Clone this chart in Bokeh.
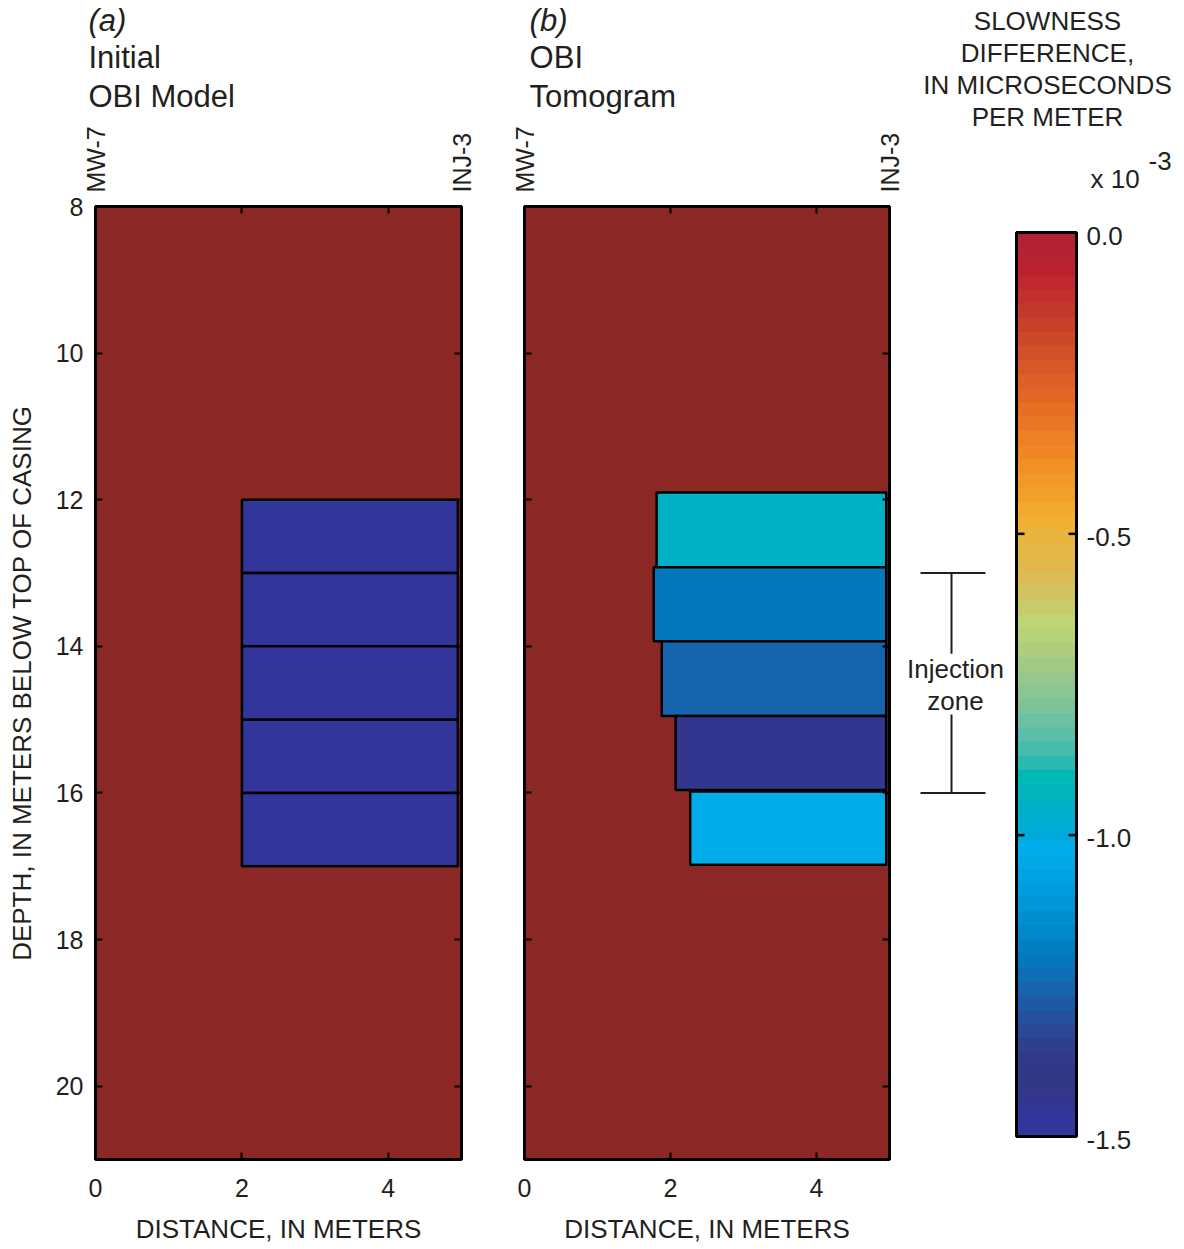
import numpy as np
from bokeh.plotting import figure
from bokeh.models import Range1d, FixedTicker, LinearAxis, ColumnDataSource
from bokeh.transform import linear_cmap
from bokeh.layouts import row, column
from bokeh.embed import file_html
from bokeh.resources import INLINE
from bokeh.core.properties import value

FONT = "Liberation Sans"
INK = "#231F20"

# ---------------- data ----------------
X_MIN, X_MAX = 0, 5
DEPTH_TOP, DEPTH_BOTTOM = 8, 21
X_TICKS = [0, 2, 4]
DEPTH_TICKS = [8, 10, 12, 14, 16, 18, 20]
WELL_X = [0, 5]
WELL_NAMES = ["MW-7", "INJ-3"]

MODEL_LEFT = [2.0, 2.0, 2.0, 2.0, 2.0]
MODEL_RIGHT = [4.95, 4.95, 4.95, 4.95, 4.95]
MODEL_TOP = [12, 13, 14, 15, 16]
MODEL_BOTTOM = [13, 14, 15, 16, 17]
MODEL_VALUE = [-1.5, -1.5, -1.5, -1.5, -1.5]

TOMO_LEFT = [1.81, 1.77, 1.88, 2.07, 2.27]
TOMO_RIGHT = [4.955, 4.955, 4.955, 4.955, 4.955]
TOMO_TOP = [11.9, 12.92, 13.93, 14.95, 15.98]
TOMO_BOTTOM = [12.92, 13.93, 14.95, 15.96, 16.98]
TOMO_VALUE = [-0.95, -1.2, -1.26, -1.44, -1.02]

INJ_TOP, INJ_BOTTOM = 13.0, 16.0

CB_LOW, CB_HIGH = -1.5, 0.0
CB_TICKS = [0.0, -0.5, -1.0, -1.5]
CB_TICK_LABELS = ["0.0", "-0.5", "-1.0", "-1.5"]
CB_TITLE = ["SLOWNESS", "DIFFERENCE,", "IN MICROSECONDS", "PER METER"]
# colour map, from low (-1.5) to high (0.0)
PALETTE = [
    "#32359A", "#32359A", "#32368F", "#33378A", "#333886", "#32398A", "#303E8E",
    "#2C4795", "#25509D", "#1D5AA6", "#1663AE", "#0D6DB5", "#0577BD", "#0080C3",
    "#0088CA", "#008FD1", "#0096D8", "#009DDE", "#00A3E3", "#00A8E6", "#00ADE9",
    "#00ABDA", "#00AECF", "#00B1C6", "#00B5BC", "#00B8B4", "#2BB9B0", "#45BCAC",
    "#5ABEA8", "#6BC1A2", "#7CC39A", "#8AC593", "#97C78B", "#A3CA84", "#AECE7D",
    "#B8D277", "#BFD574", "#C7CB69", "#CFC461", "#D8BD58", "#E1B84C", "#E6B646",
    "#EAB441", "#F0B034", "#F3A92D", "#F2A029", "#F19827", "#F09025", "#EF8724",
    "#ED7F24", "#EA7724", "#E66F24", "#E26725", "#DD6026", "#D75827", "#D15028",
    "#CC4829", "#C7402A", "#C4382B", "#C1302C", "#BE282E", "#BA222F", "#B52231",
    "#B12233",
]

# ---------------- layout geometry (pixels) ----------------
W = 1184
HEADER_H = 194
ROW_H = 1053
TOP_B = 12
FRAME_H = 953
BOT_B = ROW_H - TOP_B - FRAME_H
A_W, A_L, A_FW = 486, 95, 366
B_W, B_L, B_FW = 419, 38, 365
C_W = W - A_W - B_W
A_X0 = A_L
B_X0 = A_W + B_L
C_X0 = A_W + B_W
FRAME_TOP_PX = HEADER_H + TOP_B


def style_axis(ax, ticks, labels=True, size="25px", standoff=10):
    ax.ticker = FixedTicker(ticks=ticks)
    ax.major_tick_in = 7
    ax.major_tick_out = 0
    ax.minor_tick_in = 0
    ax.minor_tick_out = 0
    ax.major_tick_line_width = 2
    ax.major_tick_line_color = "black"
    ax.axis_line_color = "black"
    ax.axis_line_width = 3
    ax.major_label_text_font = FONT
    ax.major_label_text_color = INK
    ax.axis_label_text_font = FONT
    ax.axis_label_text_color = INK
    ax.axis_label_text_font_style = "normal"
    if labels:
        ax.major_label_text_font_size = size
        ax.major_label_standoff = standoff
    else:
        ax.major_label_text_font_size = "0px"
        ax.major_label_standoff = 0
        ax.major_label_text_alpha = 0


def panel(width, left_b, frame_w, depth_labels):
    p = figure(width=width, height=ROW_H, x_range=Range1d(X_MIN, X_MAX),
               y_range=Range1d(DEPTH_BOTTOM, DEPTH_TOP),
               x_axis_type=None, y_axis_type=None,
               toolbar_location=None, output_backend="svg",
               min_border_left=left_b, min_border_right=width - left_b - frame_w,
               min_border_top=TOP_B, min_border_bottom=BOT_B)
    p.background_fill_color = "#8B2825"
    p.border_fill_color = "white"
    p.outline_line_color = "black"
    p.outline_line_width = 3
    p.grid.visible = False

    bottom = LinearAxis(axis_label="DISTANCE, IN METERS")
    style_axis(bottom, X_TICKS, size="25px", standoff=19)
    bottom.axis_label_text_font_size = "26px"
    bottom.axis_label_standoff = 14
    p.add_layout(bottom, "below")

    top = LinearAxis()
    style_axis(top, X_TICKS, labels=False)
    p.add_layout(top, "above")

    left = LinearAxis()
    if depth_labels:
        left.axis_label = "DEPTH, IN METERS BELOW TOP OF CASING"
        style_axis(left, DEPTH_TICKS, size="25px", standoff=12)
        left.axis_label_text_font_size = "26px"
        left.axis_label_standoff = 16
    else:
        style_axis(left, DEPTH_TICKS, labels=False)
    p.add_layout(left, "left")

    right = LinearAxis()
    style_axis(right, DEPTH_TICKS, labels=False)
    p.add_layout(right, "right")
    return p


cmap = linear_cmap("value", PALETTE, CB_LOW, CB_HIGH)

# ---------------- panel (a) ----------------
pa = panel(A_W, A_L, A_FW, True)
pa.quad(left="left", right="right", top="top", bottom="bottom",
        source=ColumnDataSource(dict(left=MODEL_LEFT, right=MODEL_RIGHT, top=MODEL_TOP,
                                     bottom=MODEL_BOTTOM, value=MODEL_VALUE)),
        fill_color=cmap, line_color="black", line_width=2.5)

# ---------------- panel (b) ----------------
pb = panel(B_W, B_L, B_FW, False)
pb.quad(left="left", right="right", top="top", bottom="bottom",
        source=ColumnDataSource(dict(left=TOMO_LEFT, right=TOMO_RIGHT, top=TOMO_TOP,
                                     bottom=TOMO_BOTTOM, value=TOMO_VALUE)),
        fill_color=cmap, line_color="black", line_width=2.5)

# ---------------- colour bar + bracket ----------------
CB_TOP_PX, CB_BOT_PX = 232 - FRAME_TOP_PX, 1136 - FRAME_TOP_PX  # within frame
cb_scale = (CB_BOT_PX - CB_TOP_PX) / (CB_HIGH - CB_LOW)
cb_range = Range1d(CB_LOW - (FRAME_H - CB_BOT_PX) / cb_scale, CB_HIGH + CB_TOP_PX / cb_scale)

pc = figure(width=C_W, height=ROW_H, x_range=Range1d(0, C_W),
            y_range=Range1d(DEPTH_BOTTOM, DEPTH_TOP),
            x_axis_type=None, y_axis_type=None,
            toolbar_location=None, output_backend="svg",
            min_border_left=0, min_border_right=0,
            min_border_top=TOP_B, min_border_bottom=BOT_B)
pc.extra_y_ranges = {"cb": cb_range}
pc.outline_line_color = None
pc.background_fill_color = "white"
pc.border_fill_color = "white"
pc.grid.visible = False

edges = np.linspace(CB_LOW, CB_HIGH, len(PALETTE) + 1)
CB_X0, CB_X1 = 1016 - C_X0, 1076 - C_X0
pc.quad(left=CB_X0, right=CB_X1, bottom=edges[:-1], top=edges[1:],
        fill_color=PALETTE, line_color=PALETTE, line_width=1, y_range_name="cb")
pc.quad(left=CB_X0, right=CB_X1, bottom=CB_LOW, top=CB_HIGH, fill_color=None,
        line_color="black", line_width=3, y_range_name="cb")
pc.segment(x0=CB_X0, x1=CB_X0 + 8, y0=CB_TICKS, y1=CB_TICKS, line_color="black",
           line_width=2.5, y_range_name="cb")
pc.segment(x0=CB_X1 - 8, x1=CB_X1, y0=CB_TICKS, y1=CB_TICKS, line_color="black",
           line_width=2.5, y_range_name="cb")
pc.text(x=CB_X1 + 10, y=CB_TICKS, text=CB_TICK_LABELS, y_offset=3,
        text_font=value(FONT), text_font_size="26px", text_align="left",
        text_baseline="middle", text_color=INK, y_range_name="cb")

# injection zone bracket
BR_X0, BR_X1, BR_XC = 920 - C_X0, 985 - C_X0, 951 - C_X0
pc.segment(x0=[BR_X0, BR_X0], x1=[BR_X1, BR_X1], y0=[INJ_TOP, INJ_BOTTOM],
           y1=[INJ_TOP, INJ_BOTTOM], line_color=INK, line_width=2)
pc.segment(x0=[BR_XC, BR_XC], x1=[BR_XC, BR_XC], y0=[INJ_TOP, 14.93], y1=[14.1, INJ_BOTTOM],
           line_color=INK, line_width=2)
pc.text(x=[955 - C_X0] * 2, y=[14.31, 14.75], text=["Injection", "zone"],
        text_font=value(FONT), text_font_size="26px", text_align="center",
        text_baseline="middle", text_color=INK)

# ---------------- header (titles above the panels) ----------------
sa = A_FW / (X_MAX - X_MIN)
sb = B_FW / (X_MAX - X_MIN)
hd = figure(width=W, height=HEADER_H, x_range=Range1d(0, W), y_range=Range1d(HEADER_H, 0),
            x_axis_type=None, y_axis_type=None, toolbar_location=None,
            output_backend="svg", min_border=0)
hd.extra_x_ranges = {
    "a": Range1d(X_MIN - A_X0 / sa, X_MIN + (W - A_X0) / sa),
    "b": Range1d(X_MIN - B_X0 / sb, X_MIN + (W - B_X0) / sb),
}
hd.outline_line_color = None
hd.background_fill_color = "white"
hd.border_fill_color = "white"
hd.grid.visible = False

for rng, tag, names, x0 in (("a", "(a)", ["Initial", "OBI Model"], X_MIN - 0.096),
                            ("b", "(b)", ["OBI", "Tomogram"], X_MIN + 0.07)):
    hd.text(x=[x0], y=[20], text=[tag], x_range_name=rng,
            text_font=value(FONT), text_font_size="31px", text_font_style="italic",
            text_align="left", text_baseline="middle", text_color=INK)
    hd.text(x=[x0, x0], y=[57, 96], text=names, x_range_name=rng,
            text_font=value(FONT), text_font_size="31px",
            text_align="left", text_baseline="middle", text_color=INK)
    hd.text(x=WELL_X, y=[192, 192], text=WELL_NAMES, x_range_name=rng, angle=np.pi / 2,
            text_font=value(FONT), text_font_size="25px", text_align="left",
            text_baseline="middle", text_color=INK)

hd.text(x=[1047] * 4, y=[20, 52, 84, 116], text=CB_TITLE, text_font=value(FONT),
        text_font_size="26px", text_align="center", text_baseline="middle", text_color=INK)
hd.text(x=[1090], y=[178], text=["x 10"], text_font=value(FONT), text_font_size="26px",
        text_align="left", text_baseline="middle", text_color=INK)
hd.text(x=[1148], y=[160], text=["-3"], text_font=value(FONT), text_font_size="26px",
        text_align="left", text_baseline="middle", text_color=INK)

layout = column(hd, row(pa, pb, pc))
open("out.html", "w").write(file_html(layout, INLINE))
